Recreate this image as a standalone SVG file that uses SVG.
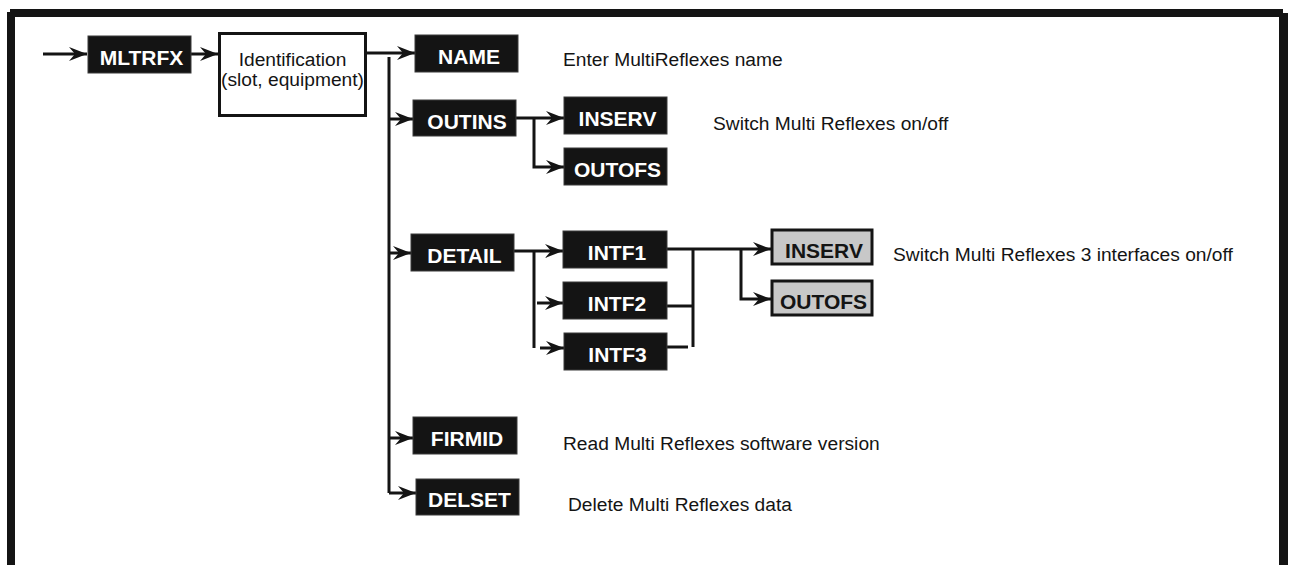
<svg xmlns="http://www.w3.org/2000/svg" width="1291" height="565" viewBox="0 0 1291 565">
<style>
.blk{fill:#141414;stroke:#3a3a3a;stroke-width:1}
.gry{fill:#c8c8c8;stroke:#141414;stroke-width:3}
.lw{font-family:"Liberation Sans",Arial,sans-serif;font-weight:bold;font-size:21px;fill:#ffffff;text-anchor:middle}
.lb{font-family:"Liberation Sans",Arial,sans-serif;font-weight:bold;font-size:21px;fill:#141414;text-anchor:middle}
.txt{font-family:"Liberation Sans",Arial,sans-serif;font-size:19.2px;fill:#141414}
.c{fill:none;stroke:#141414;stroke-width:3}
</style>
<defs>
<marker id="ah" markerUnits="userSpaceOnUse" markerWidth="20" markerHeight="16" refX="18" refY="0" viewBox="0 -8 20 16" orient="auto" overflow="visible">
<path d="M0,-7 L18,0 L0,7 L6,0 Z" fill="#141414"/>
</marker>
</defs>
<rect width="1291" height="565" fill="#ffffff"/>
<g id="frame" fill="#141414">
<rect x="10" y="9" width="1273" height="8"/>
<rect x="7" y="12" width="8" height="560"/>
<rect x="1279" y="13" width="9" height="560"/>
</g>
<g id="connectors">
<path class="c" d="M43,54 H87" marker-end="url(#ah)"/>
<path class="c" d="M191,54 H218" marker-end="url(#ah)"/>
<path class="c" d="M367,53 H415" marker-end="url(#ah)"/>
<path class="c" d="M389,57 V493"/>
<path class="c" d="M389,119 H413" marker-end="url(#ah)"/>
<path class="c" d="M389,253 H411" marker-end="url(#ah)"/>
<path class="c" d="M389,438 H413" marker-end="url(#ah)"/>
<path class="c" d="M389,493 H416" marker-end="url(#ah)"/>
<path class="c" d="M516,118 H564" marker-end="url(#ah)"/>
<path class="c" d="M534,118 V167 H564" marker-end="url(#ah)"/>
<path class="c" d="M514,251 H563" marker-end="url(#ah)"/>
<path class="c" d="M534,251 V348"/>
<path class="c" d="M537,303 H563" marker-end="url(#ah)"/>
<path class="c" d="M540,348 H564" marker-end="url(#ah)"/>
<path class="c" d="M660,249 H771" marker-end="url(#ah)"/>
<path class="c" d="M693,249 V347"/>
<path class="c" d="M667,306 H693"/>
<path class="c" d="M663,347 H688"/>
<path class="c" d="M741,249 V299 H771" marker-end="url(#ah)"/>
</g>
<g id="mltrfx"><rect class="blk" x="88" y="36" width="103" height="37"/><text class="lw" x="141.5" y="65">MLTRFX</text></g>
<g id="ident"><rect x="219.5" y="33.5" width="146" height="82" fill="#ffffff" stroke="#141414" stroke-width="3"/>
<text class="txt" x="292.5" y="66" text-anchor="middle">Identification</text>
<text class="txt" x="292.5" y="86" text-anchor="middle">(slot, equipment)</text></g>
<g id="name"><rect class="blk" x="415" y="35" width="103" height="37"/><text class="lw" x="469" y="64">NAME</text></g>
<g id="outins"><rect class="blk" x="413" y="100" width="103" height="36"/><text class="lw" x="467" y="129">OUTINS</text></g>
<g id="inserv1"><rect class="blk" x="564" y="97" width="103" height="37"/><text class="lw" x="617.5" y="126">INSERV</text></g>
<g id="outofs1"><rect class="blk" x="564" y="148" width="103" height="37"/><text class="lw" x="617.5" y="177">OUTOFS</text></g>
<g id="detail"><rect class="blk" x="411" y="234" width="103" height="37"/><text class="lw" x="464.5" y="263">DETAIL</text></g>
<g id="intf1"><rect class="blk" x="563" y="231" width="104" height="37"/><text class="lw" x="617" y="260">INTF1</text></g>
<g id="intf2"><rect class="blk" x="563" y="282" width="104" height="37"/><text class="lw" x="617" y="311">INTF2</text></g>
<g id="intf3"><rect class="blk" x="564" y="333" width="103" height="37"/><text class="lw" x="617.5" y="362">INTF3</text></g>
<g id="inserv2"><rect class="gry" x="772" y="230" width="100" height="34"/><text class="lb" x="824" y="258">INSERV</text></g>
<g id="outofs2"><rect class="gry" x="772" y="281" width="100" height="34"/><text class="lb" x="823.5" y="309">OUTOFS</text></g>
<g id="firmid"><rect class="blk" x="413" y="417" width="104" height="37"/><text class="lw" x="467" y="446">FIRMID</text></g>
<g id="delset"><rect class="blk" x="416" y="479" width="103" height="36"/><text class="lw" x="469.5" y="507">DELSET</text></g>
<g id="descriptions">
<text class="txt" x="563" y="66">Enter MultiReflexes name</text>
<text class="txt" x="713" y="130">Switch Multi Reflexes on/off</text>
<text class="txt" x="893" y="261">Switch Multi Reflexes 3 interfaces on/off</text>
<text class="txt" x="563" y="450">Read Multi Reflexes software version</text>
<text class="txt" x="568" y="511">Delete Multi Reflexes data</text>
</g>
</svg>
